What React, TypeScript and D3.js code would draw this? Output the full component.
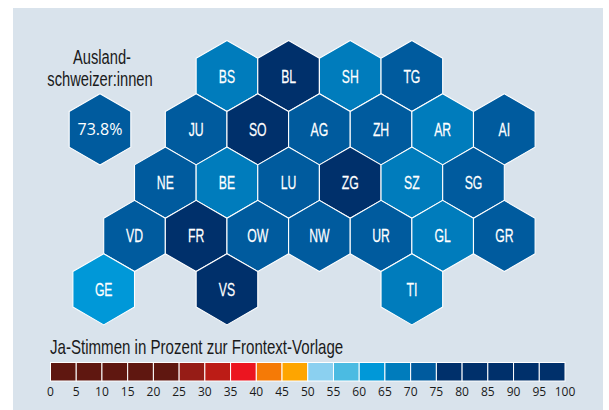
import React from "react";
import * as d3 from "d3";

// tile map, one list per row, an empty slot is one half hex step
const tileRows = [
  ["", "", "", "", "BS", "", "BL", "", "SH", "", "TG"],
  ["", "", "", "JU", "", "SO", "", "AG", "", "ZH", "", "AR", "", "AI"],
  ["", "", "NE", "", "BE", "", "LU", "", "ZG", "", "SZ", "", "SG"],
  ["", "VD", "", "FR", "", "OW", "", "NW", "", "UR", "", "GL", "", "GR"],
  ["GE", "", "", "", "VS", "", "", "", "", "", "TI"],
];

const cantons = [
  "BS", "BL", "SH", "TG", "JU", "SO", "AG", "ZH", "AR", "AI", "NE", "BE", "LU",
  "ZG", "SZ", "SG", "VD", "FR", "OW", "NW", "UR", "GL", "GR", "GE", "VS", "TI",
];
const yesShare = [
  69, 76, 68, 73, 72, 76, 73, 72, 69, 73, 72, 69, 74,
  77, 69, 73, 71, 75, 73, 74, 73, 69, 72, 64, 76, 68,
];
const abroadShare = 73.8;

const legendTicks = d3.range(0, 105, 5);
const binLimits = [25, 30, 35, 40, 45, 50, 55, 60, 65, 70, 75];
const binColors = [
  "#5f1710", "#961c16", "#bc1c16", "#ec1520", "#f57a06", "#fea500",
  "#8bd0f0", "#4bbbe2", "#0098d8", "#007cbc", "#005b9e", "#00306b",
];

const width = 609;
const height = 410;
const sans = "'Liberation Sans', Arial, sans-serif";
const plain = "'Open Sans', sans-serif";
const ink = "#1a1a1a";

const color = d3.scaleThreshold<number, string>().domain(binLimits).range(binColors);
const x = d3.scaleLinear().domain([0, 13]).range([103.7, 504.3]);
const y = d3.scaleLinear().domain([0, 4]).range([76, 289.3]);
const legendX = d3.scaleLinear().domain([0, 100]).range([50.5, 565]);

const radius = (x(2) - x(0)) / Math.sqrt(3);
const hexPath = d3.line()(
  d3.range(6).map((i): [number, number] => {
    const a = (Math.PI / 3) * i;
    return [radius * Math.sin(a), -radius * Math.cos(a)];
  })
) + "Z";

const tiles = tileRows.flatMap((row, r) =>
  row.flatMap((name, c) => (name ? [{ name, r, c }] : []))
);

// no condensed face is installed, so squeeze the regular one
function Narrow({ px, py, size, fill, anchor = "middle", squeeze = 0.68, weight = 0, children }: {
  px: number; py: number; size: number; fill: string; anchor?: string; squeeze?: number;
  weight?: number; children: React.ReactNode;
}) {
  return (
    <text
      transform={`translate(${px},${py}) scale(${squeeze},1)`}
      textAnchor={anchor}
      fontFamily={sans}
      fontSize={size}
      fill={fill}
      stroke={weight ? fill : "none"}
      strokeWidth={weight}
    >
      {children}
    </text>
  );
}

export default function App() {
  return (
    <svg width={width} height={height} style={{ position: "absolute", left: 0, top: 0 }}>
      <rect width={width} height={height} fill="#fff" />
      <rect x={13} y={8} width={590} height={402} fill="#d9e3ec" />

      {tiles.map((t) => (
        <g key={t.name} transform={`translate(${x(t.c)},${y(t.r)})`}>
          <path
            d={hexPath}
            fill={color(yesShare[cantons.indexOf(t.name)])}
            stroke="#fff"
            strokeWidth={1.1}
            strokeLinejoin="round"
          />
          <Narrow px={0} py={6.5} size={18.5} squeeze={0.66} weight={0.25} fill="#fff">
            {t.name}
          </Narrow>
        </g>
      ))}

      <Narrow px={102} py={64} size={20} squeeze={0.735} fill={ink}>
        Ausland-
      </Narrow>
      <Narrow px={100} py={85.7} size={20} squeeze={0.735} fill={ink}>
        schweizer:innen
      </Narrow>
      <g transform={`translate(100,${y(1)})`}>
        <path d={hexPath} fill={color(abroadShare)} stroke="#fff" strokeWidth={1.1} strokeLinejoin="round" />
        <text y={5.4} textAnchor="middle" fill="#fff" fontFamily={plain} fontSize={16}>
          {`${abroadShare}%`}
        </text>
      </g>

      <Narrow px={50} py={354} size={20} squeeze={0.754} fill={ink} anchor="start">
        Ja-Stimmen in Prozent zur Frontext-Vorlage
      </Narrow>
      {legendTicks.slice(0, -1).map((t, i) => (
        <rect
          key={t}
          x={legendX(t)}
          y={362.5}
          width={legendX(legendTicks[i + 1]) - legendX(t)}
          height={18.5}
          fill={color(t)}
          stroke="#fff"
          strokeWidth={1}
        />
      ))}
      {legendTicks.map((t) => (
        <text
          key={t}
          x={legendX(t)}
          y={395.5}
          textAnchor="middle"
          fontFamily={plain}
          fontSize={12}
          fill={ink}
        >
          {t}
        </text>
      ))}
    </svg>
  );
}
